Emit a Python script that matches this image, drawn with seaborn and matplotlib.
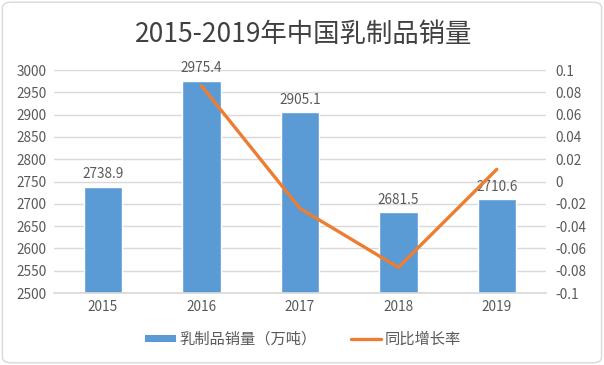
import numpy as np
import pandas as pd
import matplotlib
matplotlib.use("Agg")
import matplotlib.pyplot as plt
import seaborn as sns
from matplotlib.patches import FancyBboxPatch
from matplotlib.lines import Line2D
from matplotlib.patches import Patch

years = ["2015", "2016", "2017", "2018", "2019"]
sales = [2738.9, 2975.4, 2905.1, 2681.5, 2710.6]
growth_years = ["2016", "2017", "2018", "2019"]
growth = [0.086, -0.024, -0.077, 0.011]
bar_label = "乳制品销量（万吨）"
line_label = "同比增长率"
title = "2015-2019年中国乳制品销量"

sns.set_theme(style="white")
plt.rcParams["font.family"] = ["Noto Sans CJK SC", "DejaVu Sans"]

BAR_C = "#5B9BD5"
LINE_C = "#ED7D31"
TXT_C = "#595959"
GRID_C = "#D9D9D9"
FS = 9.8

fig = plt.figure(figsize=(6.04, 3.65), dpi=100)
fig.patch.set_facecolor("white")
ax = fig.add_axes([0.089, 0.197, 0.815, 0.611])

df = pd.DataFrame({"year": years, "sales": sales})
sns.barplot(data=df, x="year", y="sales", color=BAR_C, width=0.39, ax=ax,
            saturation=1, zorder=2)
ax.set_ylim(2500, 3000)
ax.set_yticks(np.arange(2500, 3001, 50))
ax.set_xlim(-0.5, len(years) - 0.5)
ax.set_xlabel("")
ax.set_ylabel("")
ax.grid(axis="y", color=GRID_C, linewidth=1, zorder=0)
ax.set_axisbelow(True)
for s in ax.spines.values():
    s.set_visible(False)
ax.spines["bottom"].set_visible(True)
ax.spines["bottom"].set_color(GRID_C)
ax.tick_params(axis="both", length=0, labelsize=FS, colors=TXT_C, pad=5)

for c in ax.containers:
    ax.bar_label(c, labels=[f"{v:.1f}" for v in sales], padding=4,
                 fontsize=FS, color=TXT_C)

ax2 = ax.twinx()
gdf = pd.DataFrame({"x": [years.index(y) for y in growth_years], "g": growth})
sns.lineplot(data=gdf, x="x", y="g", color=LINE_C, linewidth=2.4, ax=ax2,
             zorder=3)
ax2.set_ylim(-0.1, 0.1)
ticks2 = np.round(np.arange(-0.1, 0.1001, 0.02), 2)
ax2.set_yticks(ticks2)
ax2.set_yticklabels([("0" if abs(v) < 1e-9 else f"{v:g}") for v in ticks2])
ax2.set_ylabel("")
ax2.set_xlabel("")
ax2.grid(False)
for s in ax2.spines.values():
    s.set_visible(False)
ax2.tick_params(axis="y", length=0, labelsize=FS, colors=TXT_C, pad=7)
ax2.set_xlim(-0.5, len(years) - 0.5)

fig.text(0.502, 0.905, title, ha="center", va="center", fontsize=19, color="#404040")

handles = [Patch(facecolor=BAR_C, edgecolor="none"),
           Line2D([0], [0], color=LINE_C, linewidth=2.4)]
fig.legend(handles, [bar_label, line_label], loc="center", bbox_to_anchor=(0.502, 0.07),
           ncol=2, frameon=False, fontsize=11, labelcolor=TXT_C,
           handlelength=2.0, handleheight=0.42, columnspacing=2.2, handletextpad=0.25)

frame = FancyBboxPatch((0.004, 0.006), 0.992, 0.988, boxstyle="round,pad=0,rounding_size=0.015",
                       transform=fig.transFigure, facecolor="none", edgecolor="#D9D9D9",
                       linewidth=1, zorder=-1)
fig.patches.append(frame)

fig.savefig("out.png", dpi=100)
